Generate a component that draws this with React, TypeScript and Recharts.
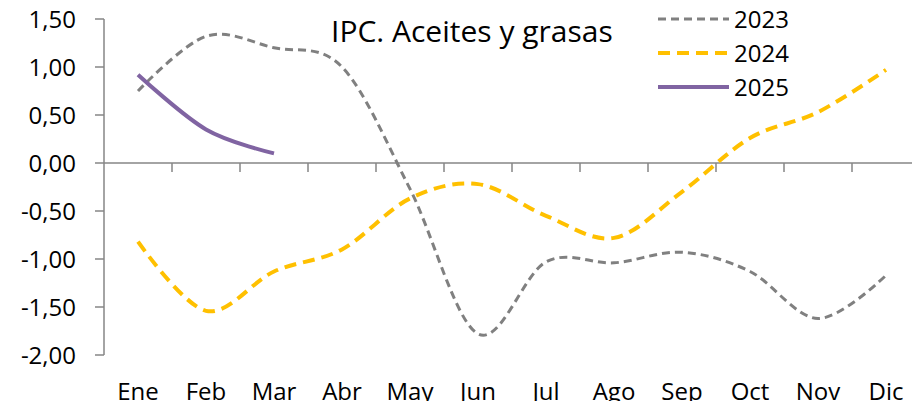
import { LineChart, Line, XAxis, YAxis, ReferenceLine } from "recharts";

const meses = ["Ene", "Feb", "Mar", "Abr", "May", "Jun", "Jul", "Ago", "Sep", "Oct", "Nov", "Dic"];
const serie2023 = [0.75, 1.32, 1.2, 1.0, -0.27, -1.78, -1.03, -1.04, -0.93, -1.13, -1.62, -1.17];
const serie2024 = [-0.82, -1.54, -1.13, -0.9, -0.37, -0.22, -0.55, -0.78, -0.3, 0.26, 0.53, 0.97];
const serie2025 = [0.92, 0.35, 0.1, null, null, null, null, null, null, null, null, null];
const yTicks = [-2, -1.5, -1, -0.5, 0, 0.5, 1, 1.5];

const data = meses.map((mes, i) => ({
  mes,
  a2023: serie2023[i],
  a2024: serie2024[i],
  a2025: serie2025[i],
}));

const series = [
  { key: "a2023", name: "2023", color: "#808080", width: 3, dash: "8 5" },
  { key: "a2024", name: "2024", color: "#FFC000", width: 4, dash: "12 7" },
  { key: "a2025", name: "2025", color: "#8064A2", width: 4, dash: undefined },
];

const AXIS = "#868686";
const FONT = "'Open Sans', sans-serif";

// suavizado tipo Excel (Catmull-Rom, como d3 cardinal con tension 0)
function curvaExcel(context: any) {
  const k = 1 / 6;
  let x0 = NaN, y0 = NaN, x1 = NaN, y1 = NaN, x2 = NaN, y2 = NaN;
  let pt = 0;
  let line = NaN;
  const seg = (x: number, y: number) =>
    context.bezierCurveTo(
      x1 + k * (x2 - x0),
      y1 + k * (y2 - y0),
      x2 + k * (x1 - x),
      y2 + k * (y1 - y),
      x2,
      y2
    );
  return {
    areaStart() { line = 0; },
    areaEnd() { line = NaN; },
    lineStart() { x0 = x1 = x2 = y0 = y1 = y2 = NaN; pt = 0; },
    lineEnd() {
      if (pt === 2) context.lineTo(x2, y2);
      else if (pt === 3) seg(x1, y1);
      if (line || (line !== 0 && pt === 1)) context.closePath();
      line = 1 - line;
    },
    point(x: number, y: number) {
      x = +x;
      y = +y;
      if (pt === 0) {
        pt = 1;
        if (line) context.lineTo(x, y);
        else context.moveTo(x, y);
      } else if (pt === 1) {
        pt = 2;
        x1 = x;
        y1 = y;
      } else {
        pt = 3;
        seg(x, y);
      }
      x0 = x1; x1 = x2; x2 = x;
      y0 = y1; y1 = y2; y2 = y;
    },
  };
}

// eje horizontal en y = 0 con marcas entre categorias
const EjeCero = (props: any) => {
  const { x1, y1, x2 } = props;
  const paso = (x2 - x1) / meses.length;
  return (
    <g>
      <line x1={x1} y1={y1} x2={x2} y2={y1} stroke={AXIS} strokeWidth={1.5} />
      {meses.map((m, i) => (
        <line
          key={m}
          x1={x1 + paso * (i + 1)}
          y1={y1}
          x2={x1 + paso * (i + 1)}
          y2={y1 + 9}
          stroke={AXIS}
          strokeWidth={1.5}
        />
      ))}
    </g>
  );
};

const Leyenda = () => (
  <div
    style={{
      position: "absolute",
      left: 656,
      top: 2,
      fontSize: 24,
      color: "#000",
    }}
  >
    {series.map((s) => (
      <div key={s.key} style={{ display: "flex", alignItems: "center", height: 34 }}>
        <svg width={78} height={10} style={{ display: "block" }}>
          <line
            x1={2}
            y1={5}
            x2={73}
            y2={5}
            stroke={s.color}
            strokeWidth={s.width}
            strokeDasharray={s.dash}
          />
        </svg>
        <span style={{ lineHeight: "34px" }}>{s.name}</span>
      </div>
    ))}
  </div>
);

export default function App() {
  return (
    <div
      style={{
        position: "absolute",
        left: 0,
        top: 0,
        width: 912,
        height: 401,
        overflow: "hidden",
        background: "#fff",
        fontFamily: FONT,
      }}
    >
      <LineChart
        width={920}
        height={401}
        data={data}
        margin={{ top: 19, right: 0, bottom: 0, left: 0 }}
      >
        <XAxis
          dataKey="mes"
          axisLine={false}
          tickLine={false}
          tickSize={8}
          tickMargin={20}
          height={46}
          interval={0}
          padding={{ left: 34, right: 34 }}
          tick={{ fill: "#000", fontSize: 24 }}
        />
        <YAxis
          domain={[-2, 1.5]}
          ticks={yTicks}
          interval={0}
          width={104}
          axisLine={{ stroke: AXIS, strokeWidth: 1.5 }}
          tickLine={{ stroke: AXIS, strokeWidth: 1.5 }}
          tickSize={9}
          tickMargin={19}
          tick={{ fill: "#000", fontSize: 24 }}
          tickFormatter={(v: number) => v.toFixed(2).replace(".", ",")}
        />
        <ReferenceLine y={0} shape={EjeCero} />
        {series.map((s) => (
          <Line
            key={s.key}
            dataKey={s.key}
            name={s.name}
            type={curvaExcel as any}
            stroke={s.color}
            strokeWidth={s.width}
            strokeDasharray={s.dash}
            dot={false}
            activeDot={false}
            isAnimationActive={false}
          />
        ))}
      </LineChart>
      <div
        style={{
          position: "absolute",
          left: 331,
          top: 10,
          fontSize: 30,
          lineHeight: "42px",
          color: "#000",
          whiteSpace: "nowrap",
        }}
      >
        IPC. Aceites y grasas
      </div>
      <Leyenda />
    </div>
  );
}
